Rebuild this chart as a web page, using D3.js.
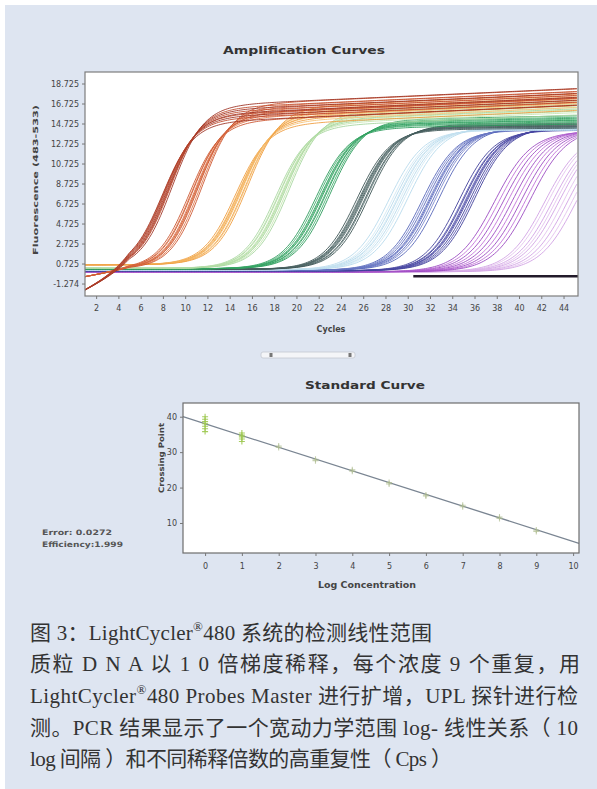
<!DOCTYPE html>
<html><head><meta charset="utf-8">
<script src="https://cdn.jsdelivr.net/npm/d3@7"></script>
<style>body{margin:0;background:#fff}svg{display:block}</style>
</head><body>
<svg id="c" width="597" height="789"></svg>
<script>
// ================= DATA =================
const ampTitle = "Amplification Curves";
const ampYLabel = "Fluorescence (483-533)";
const ampXLabel = "Cycles";
const ampYTicks = [18.725,16.725,14.725,12.725,10.725,8.725,6.725,4.725,2.725,0.725,-1.274];
const ampYTickLabels = ["18.725","16.725","14.725","12.725","10.725","8.725","6.725","4.725","2.725","0.725","-1.274"];
const ampXTicks = [2,4,6,8,10,12,14,16,18,20,22,24,26,28,30,32,34,36,38,40,42,44];

// dilution groups (earliest = highest concentration)
const groupColorsA = ["#9e3426","#cc5530","#ef9c3e","#a6d69e","#2a9a5a","#3a5252","#b6daec","#5464b8","#3e3c98","#9a48c0","#d0a0e4"];
const groupColorsB = ["#c04a2c","#e0784a","#f6c274","#c6e6b0","#48b272","#5c7474","#d2e8f4","#7a86cc","#5a58b0","#c070d8","#e2c0ee"];
// half-height cycles of each replicate
const groupMids = [
  [7.9,8.0,8.1,8.2,8.3,8.4,8.5,8.6,8.8],
  [10.3,10.5,10.6,10.8,10.9,11.0,11.1,11.3,11.5],
  [14.5,14.7,14.8,14.9,15.0,15.1,15.3,15.4,15.6],
  [18.1,18.3,18.4,18.6,18.7,18.8,18.9,19.1,19.3],
  [21.7,21.9,22.1,22.2,22.3,22.5,22.6,22.8,23.0],
  [25.4,25.6,25.7,25.8,25.9,26.0,26.2,26.3,26.5],
  [28.3,28.6,28.8,29.0,29.1,29.3,29.5,29.7,30.0],
  [31.3,31.5,31.7,31.9,32.0,32.1,32.3,32.5,32.8],
  [34.6,34.9,35.0,35.2,35.3,35.4,35.6,35.8,36.0],
  [37.8,38.2,38.6,39.0,39.4,39.8,40.2,40.6,41.0],
  [42.3,42.6,43.0,43.3,43.6,44.0,44.4,44.8,45.2]
];
const groupPlateau = [15.5,15.6,15.3,15.0,14.6,14.3,14.2,14.2,14.2,14.1,14.0];
const groupBase    = [0.2,0.2,0.6,0.25,0.2,0.15,0.1,0.05,0.0,-0.1,-0.1];
const groupDip     = [-2.2,-0.8,0,0,0,0,0,0,0,0,0];
const groupSlope   = [1.4,1.4,1.45,1.45,1.5,1.5,1.55,1.55,1.55,1.65,1.65];
const groupDrift   = [0.05,0.05,0.05,0.045,0.02,0.01,0,0,0,0,0];
const groupSpread  = [1.0,1.0,1.0,0.8,0.5,0.3,0.2,0.2,0.2,0.2,0.2];
const replicateOffsets = [-0.8,-0.5,-0.3,-0.1,0,0.2,0.4,0.6,0.9];
const ntcCycles = [30.5,45.3];
const ntcValues = [-0.55,-0.55];

// standard curve
const stdTitle = "Standard Curve";
const stdXLabel = "Log Concentration";
const stdYLabel = "Crossing Point";
const stdLogConc = [0,1,2,3,4,5,6,7,8,9];
const stdCp = [
  [35.8,36.6,37.3,38.0,38.6,39.3,40.0],
  [33.0,33.7,34.3,34.8,35.4],
  [31.3,31.7],
  [27.6,28.0],
  [24.6,25.0],
  [21.0,21.4],
  [17.6,17.9],
  [14.6,15.0],
  [11.3,11.7],
  [7.6,8.0]
];
const stdFitSlope = -3.32;
const stdFitIntercept = 38.0;
const stdXTicks = [0,1,2,3,4,5,6,7,8,9,10];
const stdYTicks = [10,20,30,40];
const errorText = "Error: 0.0272";
const effText = "Efficiency:1.999";

const captionLines = [
  "图 3：LightCycler®480 系统的检测线性范围",
  "质粒 D N A 以 1 0 倍梯度稀释，每个浓度 9 个重复，用",
  "LightCycler®480 Probes Master 进行扩增，UPL 探针进行检",
  "测。PCR 结果显示了一个宽动力学范围 log- 线性关系（ 10",
  "log 间隔 ）和不同稀释倍数的高重复性（ Cps ）"
];

// ================= DRAW =================
const svg = d3.select("#c");
const BG = "#dee5f1";
svg.append("rect").attr("x",5).attr("y",5).attr("width",592).attr("height",784).attr("fill",BG);

const sans = "'DejaVu Sans', 'Liberation Sans', sans-serif";

// ---------- Amplification plot ----------
const A = {l:85, r:578, t:72, b:296};
const ax = d3.scaleLinear().domain([1,45.3]).range([A.l,A.r]);
const ay = d3.scaleLinear().domain([-2.52,19.875]).range([A.b,A.t]);

svg.append("text").attr("x",304).attr("y",54).attr("text-anchor","middle")
  .attr("font-family",sans).attr("font-weight","bold").attr("font-size",11)
  .attr("fill","#333").attr("textLength",162).attr("lengthAdjust","spacingAndGlyphs").text(ampTitle);

svg.append("rect").attr("x",A.l).attr("y",A.t).attr("width",A.r-A.l).attr("height",A.b-A.t).attr("fill","#fff");

svg.append("clipPath").attr("id","clipA").append("rect")
  .attr("x",A.l).attr("y",A.t).attr("width",A.r-A.l).attr("height",A.b-A.t);

const cyc = d3.range(1,45.31,0.2);
const line = d3.line().x(d=>ax(d[0])).y(d=>ay(d[1])).curve(d3.curveBasis);
const gCurves = svg.append("g").attr("clip-path","url(#clipA)");

function curveVal(g, mid, plat, c){
  const s = 1/(1+Math.exp(-(c-mid)/groupSlope[g]));
  const dip = groupDip[g]*Math.max(0, 1-(c-1)/4);
  const base = groupBase[g] + dip;
  return base + (plat-base)*s + groupDrift[g]*Math.max(0,c-mid)*s;
}
for (let g = groupMids.length-1; g >= 0; g--) {
  groupMids[g].forEach((mid,i)=>{
    const plat = groupPlateau[g] + replicateOffsets[i]*groupSpread[g];
    const pts = cyc.map(c=>[c, curveVal(g,mid,plat,c)]);
    gCurves.append("path").attr("d",line(pts)).attr("fill","none")
      .attr("stroke", i%2 ? groupColorsB[g] : groupColorsA[g])
      .attr("stroke-width",1.0).attr("stroke-opacity",0.88);
  });
}
gCurves.append("path").attr("d", d3.line().x((d,i)=>ax(ntcCycles[i])).y((d,i)=>ay(ntcValues[i]))(ntcCycles))
  .attr("stroke","#221a2a").attr("stroke-width",2.4).attr("fill","none");

svg.append("rect").attr("x",A.l).attr("y",A.t).attr("width",A.r-A.l).attr("height",A.b-A.t)
  .attr("fill","none").attr("stroke","#7d7d7d").attr("stroke-width",1.2);

const yAxA = svg.append("g").attr("transform",`translate(${A.l},0)`)
  .call(d3.axisLeft(ay).tickValues(ampYTicks).tickSize(3).tickFormat((d,i)=>ampYTickLabels[i]));
const xAxA = svg.append("g").attr("transform",`translate(0,${A.b})`)
  .call(d3.axisBottom(ax).tickValues(ampXTicks).tickSize(3).tickFormat(d=>d));
[yAxA,xAxA].forEach(a=>{
  a.select(".domain").remove();
  a.selectAll("line").attr("stroke","#777");
  a.selectAll("text").attr("font-family",sans).attr("font-size",8).attr("fill","#444");
});
xAxA.selectAll("text").attr("dy","1.1em");

svg.append("text").attr("transform","translate(38,180) rotate(-90)").attr("text-anchor","middle")
  .attr("font-family",sans).attr("font-weight","bold").attr("font-size",7).attr("fill","#444")
  .attr("textLength",150).attr("lengthAdjust","spacingAndGlyphs").text(ampYLabel);
svg.append("text").attr("x",331).attr("y",332).attr("text-anchor","middle")
  .attr("font-family",sans).attr("font-weight","bold").attr("font-size",8).attr("fill","#444").text(ampXLabel);

// slider
svg.append("rect").attr("x",261).attr("y",352).attr("width",94).attr("height",6).attr("rx",2)
  .attr("fill","#f4f5f8").attr("stroke","#c4c8d0").attr("stroke-width",0.8);
[271,350].forEach(x=>svg.append("rect").attr("x",x-1.5).attr("y",353).attr("width",3).attr("height",4).attr("fill","#777"));

// ---------- Standard curve ----------
const S = {l:183, r:579, t:403, b:553};
const sx = d3.scaleLinear().domain([-0.6,10.16]).range([S.l,S.r]);
const sy = d3.scaleLinear().domain([1.53,43.87]).range([S.b,S.t]);

svg.append("text").attr("x",365).attr("y",389).attr("text-anchor","middle")
  .attr("font-family",sans).attr("font-weight","bold").attr("font-size",11)
  .attr("fill","#333").attr("textLength",120).attr("lengthAdjust","spacingAndGlyphs").text(stdTitle);

svg.append("rect").attr("x",S.l).attr("y",S.t).attr("width",S.r-S.l).attr("height",S.b-S.t).attr("fill","#fff");

const fitX = sx.domain();
svg.append("line").attr("x1",sx(fitX[0])).attr("y1",sy(stdFitIntercept+stdFitSlope*fitX[0]))
  .attr("x2",sx(fitX[1])).attr("y2",sy(stdFitIntercept+stdFitSlope*fitX[1]))
  .attr("stroke","#7a8592").attr("stroke-width",1.3);

stdLogConc.forEach((lc,k)=>{
  const col = k<2 ? "#9cc84e" : "#aebc8e";
  stdCp[k].forEach(cp=>{
    const px = sx(lc), py = sy(cp);
    svg.append("path").attr("d",`M${px-3},${py}H${px+3}M${px},${py-3}V${py+3}`)
      .attr("stroke",col).attr("stroke-width",1.1).attr("stroke-opacity",k<2?0.9:0.7);
  });
});

svg.append("rect").attr("x",S.l).attr("y",S.t).attr("width",S.r-S.l).attr("height",S.b-S.t)
  .attr("fill","none").attr("stroke","#6d6d6d").attr("stroke-width",1.2);

const yAxS = svg.append("g").attr("transform",`translate(${S.l},0)`)
  .call(d3.axisLeft(sy).tickValues(stdYTicks).tickSize(3));
const xAxS = svg.append("g").attr("transform",`translate(0,${S.b})`)
  .call(d3.axisBottom(sx).tickValues(stdXTicks).tickSize(3));
[yAxS,xAxS].forEach(a=>{
  a.select(".domain").remove();
  a.selectAll("line").attr("stroke","#777");
  a.selectAll("text").attr("font-family",sans).attr("font-size",8).attr("fill","#444");
});
xAxS.selectAll("text").attr("dy","1.3em");

svg.append("text").attr("transform","translate(164,458) rotate(-90)").attr("text-anchor","middle")
  .attr("font-family",sans).attr("font-weight","bold").attr("font-size",7.5).attr("fill","#444")
  .attr("textLength",70).attr("lengthAdjust","spacingAndGlyphs").text(stdYLabel);
svg.append("text").attr("x",367).attr("y",588).attr("text-anchor","middle")
  .attr("font-family",sans).attr("font-weight","bold").attr("font-size",8).attr("fill","#444")
  .attr("textLength",98).attr("lengthAdjust","spacingAndGlyphs").text(stdXLabel);

svg.append("text").attr("x",42).attr("y",535).attr("font-family",sans).attr("font-weight","bold")
  .attr("font-size",7.5).attr("fill","#555").attr("textLength",70).attr("lengthAdjust","spacingAndGlyphs").text(errorText);
svg.append("text").attr("x",42).attr("y",547).attr("font-family",sans).attr("font-weight","bold")
  .attr("font-size",7.5).attr("fill","#555").attr("textLength",81).attr("lengthAdjust","spacingAndGlyphs").text(effText);

// ---------- Caption ----------
const capBase = [640,671,703,735,766];
const capWidth = [402,550,548,548,422];
const capFont = "'Liberation Serif','Noto Sans CJK SC',serif";
captionLines.forEach((ln,i)=>{
  const t = svg.append("text").attr("x",30).attr("y",capBase[i])
    .attr("font-family",capFont).attr("font-size",21).attr("fill","#333")
    .attr("textLength",capWidth[i]).attr("lengthAdjust","spacing");
  const parts = ln.split("®");
  parts.forEach((p,j)=>{
    if (j>0) {
      t.append("tspan").attr("dy",-9).attr("font-size",13).text("®");
      t.append("tspan").attr("dy",9).text(p);
    } else t.append("tspan").text(p);
  });
});
</script>
</body></html>
